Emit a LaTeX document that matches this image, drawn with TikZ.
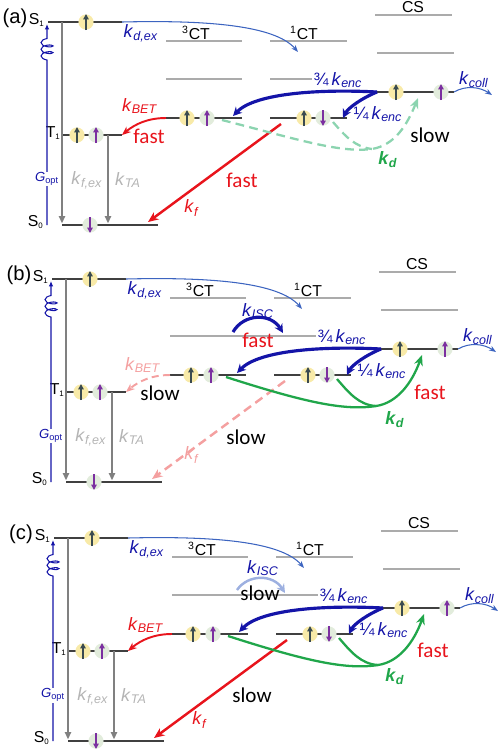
\documentclass[tikz,border=0pt]{standalone}
\usepackage{fontspec}
\setmainfont{Liberation Sans}
\newfontfamily\calib{Carlito}
\usetikzlibrary{arrows.meta,decorations.pathmorphing}

\definecolor{levdark}{HTML}{404040}
\definecolor{levlight}{HTML}{ABABAB}
\definecolor{navy}{HTML}{1414A8}
\definecolor{skyblue}{HTML}{3C64C0}
\definecolor{isclight}{HTML}{9DB0E0}
\definecolor{redarr}{HTML}{E8141C}
\definecolor{pinkarr}{HTML}{F4A0A0}
\definecolor{greenarr}{HTML}{20A64A}
\definecolor{mintarr}{HTML}{8CD4B0}
\definecolor{yelspin}{HTML}{F8EAA8}
\definecolor{grnspin}{HTML}{E2ECDC}
\definecolor{spindark}{HTML}{3A4A50}
\definecolor{purpspin}{HTML}{7B2FA0}
\definecolor{grayarr}{HTML}{808080}
\definecolor{graytxt}{HTML}{B4B4B4}

\newcommand\kr[1]{\textit{k}\textsubscript{\textit{#1}}}
\newcommand\lsub[2]{#1\textsubscript{\fontsize{4.5}{5}\selectfont #2}}
\newcommand\eup[3]{\fill[#2] (#1) circle (4.3pt); \draw[spinarr, #3] (#1) ++(0,8) -- ++(0,-16);}
\newcommand\edown[3]{\fill[#2] (#1) circle (4.3pt); \draw[spinarr, #3] (#1) ++(0,-8) -- ++(0,16);}

% levels, spins and the arrows every panel shares
\newcommand\panel[1]{%
  \node[tag] (tag) at (15,18) {#1};
  \coordinate (s1l) at (48,22);   \coordinate (s1r) at (122,22);
  \coordinate (t1l) at (62,135);  \coordinate (t1r) at (122,135);
  \coordinate (s0l) at (62,225);  \coordinate (s0r) at (158,225);
  \coordinate (tcl) at (166,118); \coordinate (tcr) at (242,118);
  \coordinate (scl) at (270,118); \coordinate (scr) at (347,118);
  \coordinate (csl) at (377,92);  \coordinate (csr) at (454,92);
  \coordinate (ta) at (108,135);
  \coordinate (gbot) at (47,225); \coordinate (gtop) at (47,24);
  \coordinate (kdexend) at (298,52); \coordinate (kcollend) at (492,95);
  \coordinate (encA) at (233,116); \coordinate (encB) at (343,118);
  \foreach \y in {41,79} {
    \draw[levempty] (166,\y) -- (242,\y);
    \draw[levempty] (270,\y) -- (347,\y);
  }
  \draw[levempty] (375,15) -- (452,15);
  \draw[levempty] (377,53) -- (454,53);
  \foreach \a/\b in {s1l/s1r, t1l/t1r, s0l/s0r, tcl/tcr, scl/scr, csl/csr}
    \draw[levfull] (\a) -- (\b);
  \node[levlab, anchor=east] (s1lab) at (46,20) {\lsub{S}{1}};
  \node[levlab, anchor=east] (t1lab) at (62,133) {\lsub{T}{1}};
  \node[levlab, anchor=east] (s0lab) at (45,222) {\lsub{S}{0}};
  \node[levlab] (tctlab) at (196,33) {\textsuperscript{3}CT};
  \node[levlab] (sctlab) at (304,33) {\textsuperscript{1}CT};
  \node[levlab] (cslab) at (413,7) {CS};
  \node[rate, text=navy] (kdexlab) at (141,33) {\kr{d,ex}};
  \node[rate, text=navy] (kcolllab) at (474,80) {\kr{coll}};
  \node[rate, text=navy, fill=white] (enc34lab) at (338,80) {¾\,\kr{enc}};
  \node[rate, text=navy] (enc14lab) at (378,114) {¼\,\kr{enc}};
  \node[rate, text=graytxt] (kfexlab) at (87,180) {\kr{f,ex}};
  \node[rate, text=graytxt] (ktalab) at (128,180) {\kr{TA}};
  \eup{86,22}{yelspin}{spindark}
  \eup{77,135}{yelspin}{spindark}
  \eup{96,135}{grnspin}{purpspin}
  \edown{90,225}{grnspin}{purpspin}
  \eup{187,118}{yelspin}{spindark}
  \eup{207,118}{grnspin}{purpspin}
  \eup{304,118}{yelspin}{spindark}
  \edown{323,118}{grnspin}{purpspin}
  \eup{396,92}{yelspin}{spindark}
  \eup{441,92}{grnspin}{purpspin}
  \draw[decay] (s0l |- s1l) -- (s0l);
  \draw[decay] (ta) -- (ta |- s0l);
  \draw[gopt] (gbot) -- (47,60) decorate {-- (47,33)} -- (gtop);
  \node[goptlab] (goptlab) at (47,179) {\textit{G}\textsubscript{opt}};
  \draw[thinblue] (s1r) .. controls (205,20) and (275,25) .. (kdexend);
  \draw[thinblue] (csr) .. controls (466,85) and (480,87) .. (kcollend);
  \draw[enc] (csl) .. controls (320,89) and (255,93) .. (encA);
  \draw[enc] (csl) .. controls (362,98) and (348,108) .. (encB);
  \coordinate (kfa) at (281,124); \coordinate (kfb) at (148,222);
  \coordinate (kda) at (222,120); \coordinate (kdb) at (333,122);
  \coordinate (kdlow) at (372,149); \coordinate (kdend) at (418,98);
}

\begin{document}
\begin{tikzpicture}[x=0.02cm, y=-0.02cm,
    levfull/.style={draw=levdark, line width=0.75pt},
    levempty/.style={draw=levlight, line width=0.7pt},
    levlab/.style={font=\fontsize{9}{10}\selectfont, inner sep=0.5pt},
    tag/.style={font=\fontsize{11.5}{12}\selectfont, inner sep=0pt},
    rate/.style={font=\fontsize{10.2}{11}\selectfont, inner sep=1pt},
    speed/.style={font=\calib\fontsize{12}{13}\selectfont, inner sep=1pt},
    spinarr/.style={line width=0.9pt, -{Triangle[length=3pt,width=3pt]}},
    decay/.style={draw=grayarr, line width=1.2pt, -{Triangle[length=4pt,width=3.5pt]}, shorten >=1pt},
    gopt/.style={draw=navy, line width=0.6pt, -{Latex[length=3pt,width=2.5pt]},
        decoration={coil, aspect=0.4, amplitude=3.4pt, segment length=3.8pt}},
    goptlab/.style={fill=white, inner sep=0.6pt, text=navy, font=\fontsize{7.5}{8}\selectfont},
    thinblue/.style={draw=skyblue, line width=0.6pt, -{Stealth[length=4pt,width=3pt]}},
    enc/.style={draw=navy, line width=1.8pt, -{Stealth[length=5pt,width=5pt]}},
    isc/.style={draw=isclight, line width=1.4pt, -{Stealth[length=5pt,width=5pt]}},
    betarr/.style={draw=redarr, line width=1.1pt, -{Stealth[length=5pt,width=4pt]}},
    betdash/.style={draw=pinkarr, line width=1.1pt, dash pattern=on 4pt off 2.5pt, -{Stealth[length=5pt,width=4pt]}},
    kfarr/.style={draw=redarr, line width=1.4pt, -{Stealth[length=6pt,width=5pt]}},
    kfdash/.style={draw=pinkarr, line width=1.4pt, dash pattern=on 5pt off 3pt, -{Stealth[length=6pt,width=5pt]}},
    kdarr/.style={draw=greenarr, line width=1.3pt, -{Stealth[length=6pt,width=5pt]}},
    kddash/.style={draw=mintarr, line width=1.3pt, dash pattern=on 5pt off 3pt, -{Stealth[length=6pt,width=5pt]}}
]
\useasboundingbox (0,0) rectangle (500,752);

\begin{scope}[name prefix=a-]
  \panel{(a)}
  \draw[betarr] (tcl) .. controls (148,118) and (135,124) .. (t1r);
  \draw[kfarr] (kfa) -- (kfb);
  \draw[kddash] (kda) .. controls (300,140) and (340,153) .. (kdlow) .. controls (395,145) and (407,125) .. (kdend);
  \draw[kddash, -] (kdb) .. controls (345,136) and (355,147) .. (kdlow);
  \node[rate, text=redarr] (betlab) at (140,106) {\kr{BET}};
  \node[speed, text=redarr] (betspeed) at (149,136) {fast};
  \node[rate, text=redarr] (kflab) at (192,208) {\kr{f}};
  \node[speed, text=redarr] (kfspeed) at (242,180) {fast};
  \node[rate, text=greenarr, font=\fontsize{10.2}{11}\selectfont\bfseries] (kdlab) at (388,160) {\kr{d}};
  \node[speed] (kdspeed) at (430,135) {slow};
\end{scope}

\begin{scope}[shift={(4,257)}, name prefix=b-]
  \panel{(b)}
  \draw[levempty] (242,79) -- (270,79);
  \coordinate (isca) at (229,75); \coordinate (iscb) at (279,76);
  \draw[enc] (isca) .. controls (240,56) and (267,56) .. (iscb);
  \node[rate, text=navy] (isclab) at (254,54) {\kr{ISC}};
  \node[speed, text=redarr] (iscspeed) at (254,83) {fast};
  \draw[betdash] (tcl) .. controls (148,118) and (135,124) .. (t1r);
  \draw[kfdash] (kfa) -- (kfb);
  \draw[kdarr] (kda) .. controls (300,145) and (340,154) .. (kdlow) .. controls (393,146) and (408,126) .. (kdend);
  \draw[kdarr, -] (kdb) .. controls (345,136) and (355,148) .. (kdlow);
  \node[rate, text=pinkarr] (betlab) at (139,108) {\kr{BET}};
  \node[speed] (betspeed) at (156,136) {slow};
  \node[rate, text=pinkarr] (kflab) at (188,198) {\kr{f}};
  \node[speed] (kfspeed) at (242,180) {slow};
  \node[rate, text=greenarr, font=\fontsize{10.2}{11}\selectfont\bfseries] (kdlab) at (391,163) {\kr{d}};
  \node[speed, text=redarr] (kdspeed) at (426,135) {fast};
\end{scope}

\begin{scope}[shift={(6,516)}, name prefix=c-]
  \panel{(c)}
  \draw[levempty] (242,79) -- (270,79);
  \coordinate (isca) at (231,74); \coordinate (iscb) at (279,77);
  \draw[isc] (isca) .. controls (242,58) and (267,58) .. (iscb);
  \node[rate, text=navy] (isclab) at (257,52) {\kr{ISC}};
  \node[speed] (iscspeed) at (254,77) {slow};
  \draw[betarr] (tcl) .. controls (148,118) and (135,124) .. (t1r);
  \draw[kfarr] (kfa) -- (kfb);
  \draw[kdarr] (kda) .. controls (300,145) and (340,154) .. (kdlow) .. controls (393,146) and (408,126) .. (kdend);
  \draw[kdarr, -] (kdb) .. controls (345,136) and (355,148) .. (kdlow);
  \node[rate, text=redarr] (betlab) at (140,109) {\kr{BET}};
  \node[rate, text=redarr] (kflab) at (194,204) {\kr{f}};
  \node[speed] (kfspeed) at (246,179) {slow};
  \node[rate, text=greenarr, font=\fontsize{10.2}{11}\selectfont\bfseries] (kdlab) at (389,161) {\kr{d}};
  \node[speed, text=redarr] (kdspeed) at (427,134) {fast};
\end{scope}
\end{tikzpicture}
\end{document}
